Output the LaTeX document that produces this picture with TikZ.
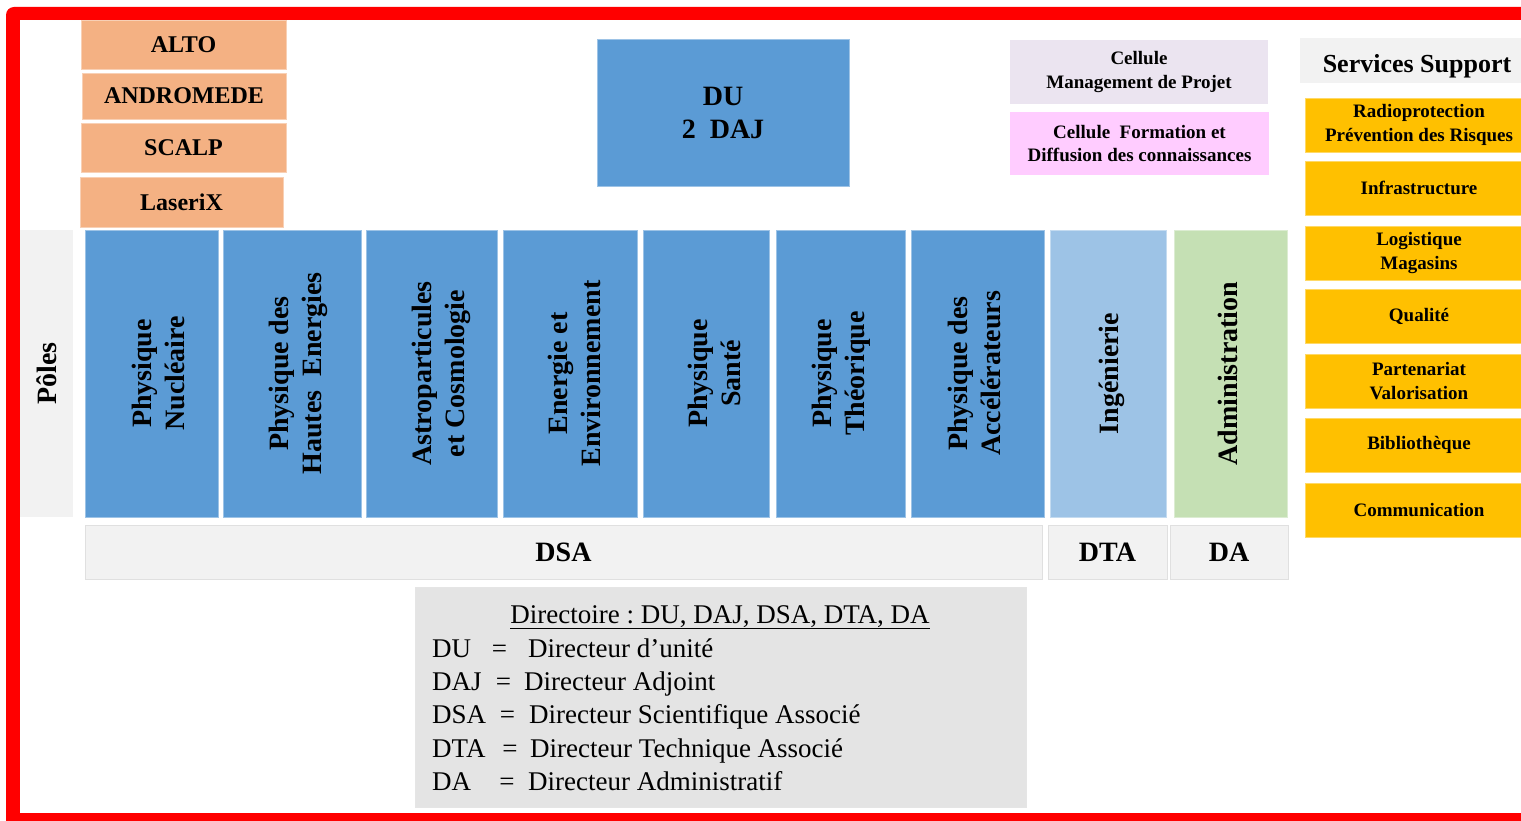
\documentclass[tikz,border=0pt]{standalone}
\usepackage{fontspec}
\setmainfont{Liberation Serif}
\frenchspacing

\definecolor{peche}{HTML}{F4B183}
\definecolor{bleupole}{HTML}{5B9BD5}
\definecolor{bleuclair}{HTML}{9DC3E6}
\definecolor{vertadmin}{HTML}{C5E0B4}
\definecolor{jaune}{HTML}{FFC000}
\definecolor{lavande}{HTML}{EBE4F0}
\definecolor{rose}{HTML}{FFCCFF}
\definecolor{grisclair}{HTML}{F2F2F2}
\definecolor{grisleg}{HTML}{E4E4E4}

\newcommand\colfont{\fontsize{28}{33}\selectfont\bfseries}
\newcommand\projfont{\fontsize{24}{28}\selectfont\bfseries}
\newcommand\cellfont{\fontsize{19}{23.5}\selectfont\bfseries}
\newcommand\legfont{\fontsize{27}{33}\selectfont}

\tikzset{
  bloc/.style={inner sep=0pt, outer sep=0pt, align=center, text=black},
  projet/.style={bloc, fill=peche, draw=peche!60!white, font=\projfont, minimum width=205pt, minimum height=49pt},
  poleblk/.style={bloc, minimum height=287pt},
  poletxt/.style={bloc, rotate=90, font=\colfont},
  dirblk/.style={bloc, fill=grisclair, draw=black!12, font=\colfont, minimum height=54pt},
  support/.style={bloc, fill=jaune, draw=jaune!60!white, font=\cellfont, minimum width=228pt, minimum height=54pt},
  legtxt/.style={inner sep=0pt, font=\legfont}
}

\begin{document}
\begin{tikzpicture}[x=1pt,y=-1pt]
\useasboundingbox (0,0) rectangle (1521,821);
\clip (0,0) rectangle (1521,821);
% cadre rouge
\fill[red, rounded corners=8pt] (6,7) rectangle (1545,830);
\fill[white] (20,20) rectangle (1545,813);

% projets
\node[projet] (alto) at (183.5,45) {ALTO};
\node[projet, minimum width=204pt, minimum height=46pt] (andromede) at (184,96) {ANDROMEDE};
\node[projet] (scalp) at (183.5,147.5) {SCALP};
\node[projet, minimum width=203pt, minimum height=50pt] (laserix) at (181.5,202) {LaseriX};

% direction
\node[bloc, fill=bleupole, draw=bleupole!60!white, font=\colfont, minimum width=252pt, minimum height=147pt] (du) at (723,112.5) {DU\\2~~DAJ};

\node[bloc, fill=lavande, font=\cellfont, minimum width=258pt, minimum height=64pt] (cmp) at (1139,72) {Cellule\\Management de Projet};
\node[bloc, fill=rose, font=\cellfont, minimum width=259pt, minimum height=63pt] (cfd) at (1139.5,143.5) {Cellule~ Formation et\\Diffusion des connaissances};

% services support
\node[inner sep=0pt, fill=grisclair, font=\fontsize{26}{30}\selectfont\bfseries, text height=24pt, text depth=0pt,
  minimum width=234pt, minimum height=45pt] (ss) at (1417,60.5) {Services Support};
\foreach \yy/\txt [count=\i] in {125/{Radioprotection\\Prévention des Risques}, 188/Infrastructure,
  253/{Logistique\\Magasins}, 316.5/Qualité, 381/{Partenariat\\Valorisation},
  445/Bibliothèque, 510/Communication}
  \node[support] (sup\i) at (1419,\yy) {\txt};

% poles
\node[poleblk, fill=grisclair, minimum width=53pt] (poles) at (46.5,373.5) {};
\node[poletxt] (poles-txt) at (46.5,373.5) {Pôles};
\foreach \cx/\w/\col/\dx/\txt [count=\i] in {151.5/133/bleupole/7/{Physique\\Nucléaire},
  292/138/bleupole/6/{Physique des\\Hautes~ Energies},
  431.5/131/bleupole/10/{Astroparticules\\et Cosmologie},
  570/134/bleupole/4/{Energie et\\Environnement},
  706/126/bleupole/8/{Physique\\Santé},
  840.5/129/bleupole/1/{Physique\\Théorique},
  977.5/133/bleupole/-3/{Physique des\\Accélérateurs},
  1108.5/116/bleuclair/3/Ingénierie,
  1230.5/113/vertadmin/-3/Administration}
{
  \node[poleblk, fill=\col, draw=\col!60!white, minimum width=\w pt] (pole\i) at (\cx,373.5) {};
  \node[poletxt] (pole\i-txt) at ([xshift=\dx pt]pole\i.center) {\txt};
}

% directeurs
\node[dirblk, minimum width=957pt] (dsa) at (563.5,552) {DSA};
\node[dirblk, minimum width=119pt] (dta) at (1107.5,552) {DTA};
\node[dirblk, minimum width=118pt] (da) at (1229,552) {DA};

% legende
\node[bloc, fill=grisleg, draw=black!10, minimum width=611pt, minimum height=220pt] (legende) at (720.5,697) {};
\node[legtxt, anchor=base] (titre) at (720,623) {\underline{Directoire : DU, DAJ, DSA, DTA, DA}};
\foreach \ab/\eqx/\defx/\df/\yy/\nm in {DU/499.5/528/{Directeur d’unité}/657/du,
  DAJ/503.5/524/{Directeur Adjoint}/690/daj,
  DSA/507.5/529/{Directeur Scientifique\ Associé}/723/dsa,
  DTA/510/530/{Directeur Technique Associé}/757/dta,
  DA/507/528/{Directeur Administratif}/790/da}
{
  \node[legtxt, anchor=base west] (\nm-ab) at (432,\yy) {\ab};
  \node[legtxt, anchor=base] (\nm-eq) at (\eqx,\yy) {=};
  \node[legtxt, anchor=base west] (\nm-def) at (\defx,\yy) {\df};
}
\end{tikzpicture}
\end{document}
